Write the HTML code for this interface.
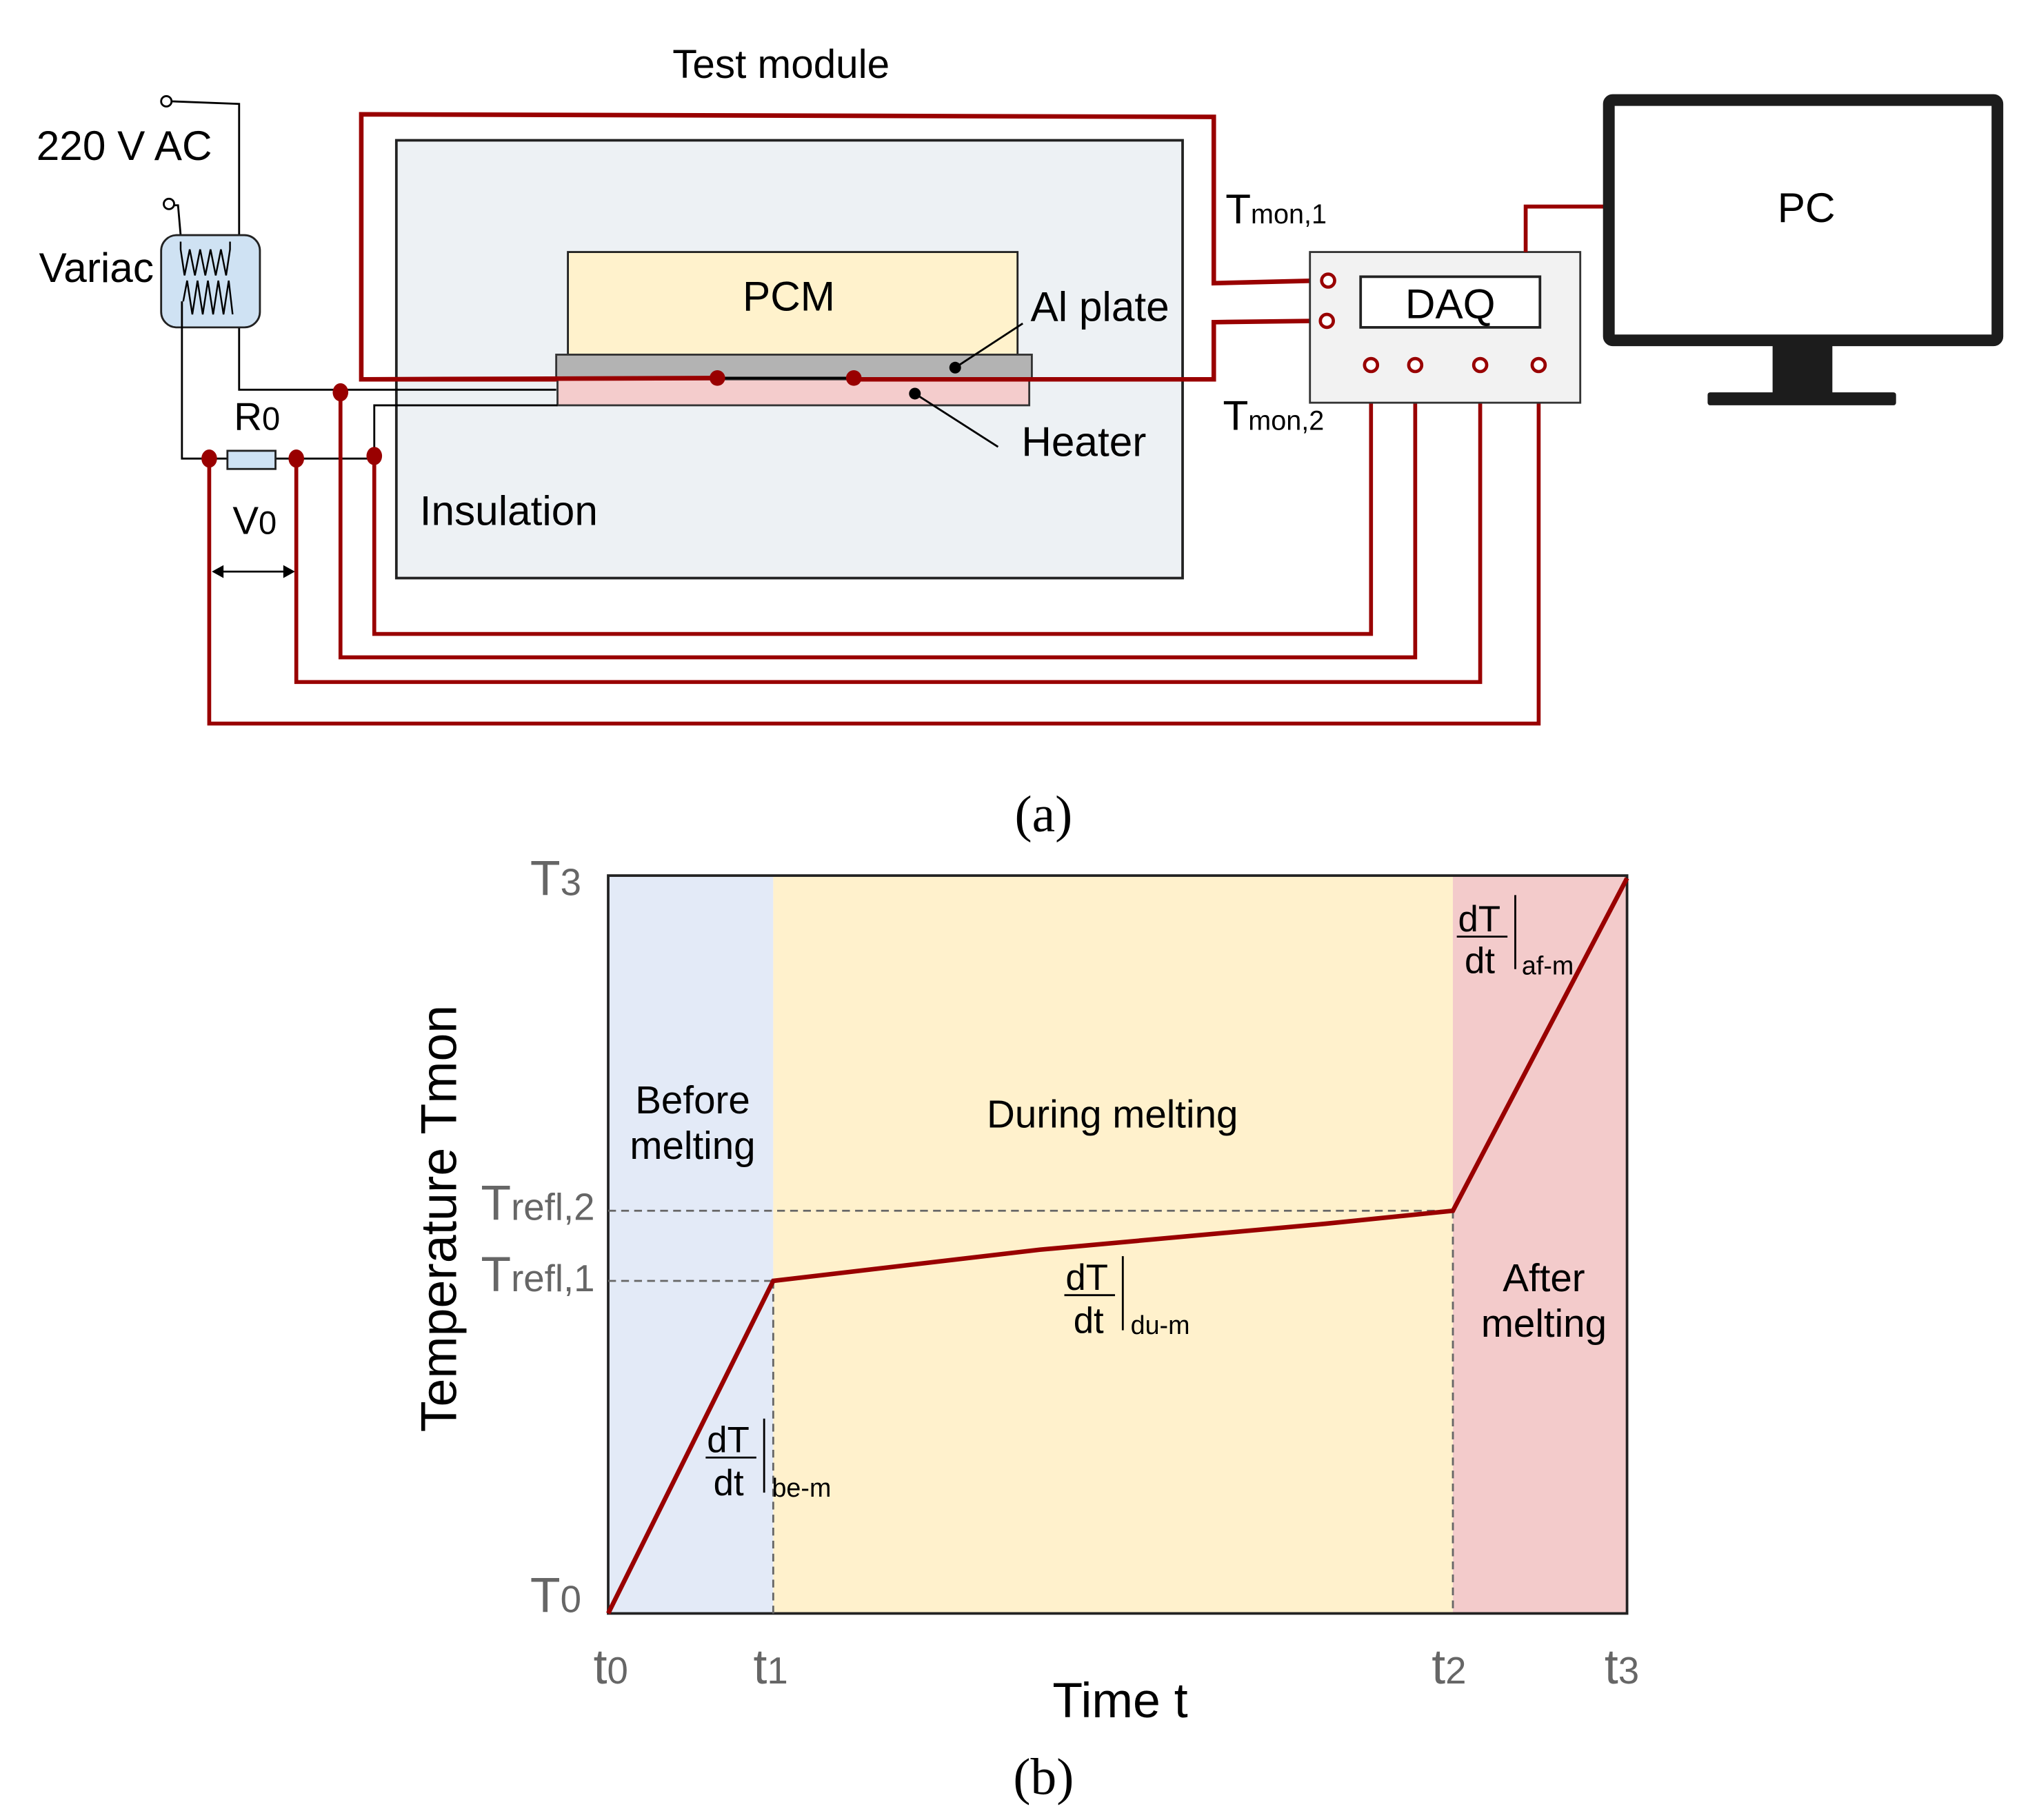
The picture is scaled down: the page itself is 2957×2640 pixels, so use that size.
<!DOCTYPE html>
<html><head><meta charset="utf-8"><style>
html,body{margin:0;padding:0;background:#fff;}
svg{display:block;}
text{font-family:"Liberation Sans",Arial,sans-serif;fill:#000;}
.g{fill:#666;}
.serif{font-family:"Liberation Serif",serif;}
</style></head><body>
<svg width="2957" height="2640" viewBox="0 0 1569 1401" preserveAspectRatio="none" xmlns="http://www.w3.org/2000/svg">
<rect x="0" y="0" width="1569" height="1401" fill="#fff"/>
<!-- ===== (a) ===== -->
<text x="601" y="60" font-size="31" text-anchor="middle">Test module</text>
<rect x="305" y="108" width="605" height="337" fill="#edf1f4" stroke="#222" stroke-width="2"/>
<text x="323" y="404" font-size="32">Insulation</text>
<polyline points="552,292 278,292 278,88 934,90 934,218 1014,216" fill="none" stroke="#990000" stroke-width="3.5"/>
<rect x="437" y="194" width="346" height="79" fill="#fff2cc" stroke="#222" stroke-width="1.5"/>
<text x="607" y="239" font-size="32" text-anchor="middle">PCM</text>
<rect x="428" y="273" width="366" height="19" fill="#b3b3b3" stroke="#333" stroke-width="1.5"/>
<rect x="429" y="292" width="363" height="20" fill="#f4cccc" stroke="#333" stroke-width="1.5"/>
<line x1="278" y1="292" x2="552" y2="291" stroke="#990000" stroke-width="3.5"/>
<line x1="552" y1="291" x2="657" y2="291" stroke="#000" stroke-width="2"/>
<polyline points="657,292 934,292 934,248 1014,247" fill="none" stroke="#990000" stroke-width="3.5"/>
<circle cx="552" cy="291" r="6" fill="#990000"/>
<circle cx="657" cy="291" r="6" fill="#990000"/>
<circle cx="735" cy="283" r="4.5" fill="#000"/>
<circle cx="704" cy="303" r="4.5" fill="#000"/>
<line x1="735" y1="283" x2="787" y2="249" stroke="#000" stroke-width="1.5"/>
<line x1="704" y1="303" x2="768" y2="344" stroke="#000" stroke-width="1.5"/>
<text x="793" y="247" font-size="32">Al plate</text>
<text x="786" y="351" font-size="32">Heater</text>
<text x="28" y="123" font-size="32">220 V AC</text>
<text x="30" y="217" font-size="32">Variac</text>
<circle cx="128" cy="78" r="4" fill="#fff" stroke="#000" stroke-width="1.5"/>
<circle cx="130" cy="157" r="4" fill="#fff" stroke="#000" stroke-width="1.5"/>
<polyline points="132,78 184,80 184,300 428,300" fill="none" stroke="#000" stroke-width="1.5"/>
<polyline points="134,158 137,158 139,181" fill="none" stroke="#000" stroke-width="1.5"/>
<rect x="124" y="181" width="76" height="71" rx="12" fill="#cfe2f3" stroke="#222" stroke-width="1.5"/>
<polyline points="139,186 139,192 142,212 146,192 150,212 154,192 158,212 162,192 166,212 170,192 174,212 177,192 177,186" fill="none" stroke="#000" stroke-width="1.3"/>
<polyline points="141,232 144,216 148,242 152,216 156,242 160,216 164,242 168,216 172,242 176,216 179,242" fill="none" stroke="#000" stroke-width="1.3"/>
<polyline points="140,232 140,353 288,353" fill="none" stroke="#000" stroke-width="1.5"/>
<polyline points="288,353 288,312 429,312" fill="none" stroke="#000" stroke-width="1.5"/>
<rect x="175" y="347" width="37" height="14" fill="#cfe2f3" stroke="#222" stroke-width="1.5"/>
<text x="180" y="331" font-size="30">R<tspan font-size="25">0</tspan></text>
<text x="179" y="411" font-size="30">V<tspan font-size="25">0</tspan></text>
<line x1="166" y1="440" x2="224" y2="440" stroke="#000" stroke-width="1.5"/>
<polygon points="163,440 172,435 172,445" fill="#000"/>
<polygon points="227,440 218,435 218,445" fill="#000"/>
<g fill="none" stroke="#990000" stroke-width="3">
<polyline points="288,351 288,488 1055,488 1055,285"/>
<polyline points="262,302 262,506 1089,506 1089,285"/>
<polyline points="228,353 228,525 1139,525 1139,285"/>
<polyline points="161,353 161,557 1184,557 1184,285"/>
</g>
<ellipse cx="161" cy="353" rx="6" ry="7" fill="#990000"/>
<ellipse cx="228" cy="353" rx="6" ry="7" fill="#990000"/>
<ellipse cx="288" cy="351" rx="6" ry="7" fill="#990000"/>
<ellipse cx="262" cy="302" rx="6" ry="7" fill="#990000"/>
<rect x="1008" y="194" width="208" height="116" fill="#f2f2f2" stroke="#333" stroke-width="1.5"/>
<rect x="1047" y="213" width="138" height="39" fill="#fff" stroke="#222" stroke-width="2"/>
<text x="1116" y="245" font-size="32" text-anchor="middle">DAQ</text>
<g fill="#fff" stroke="#990000" stroke-width="2.5">
<circle cx="1022" cy="216" r="5"/><circle cx="1021" cy="247" r="5"/>
<circle cx="1055" cy="281" r="5"/><circle cx="1089" cy="281" r="5"/>
<circle cx="1139" cy="281" r="5"/><circle cx="1184" cy="281" r="5"/>
</g>
<text x="943" y="172" font-size="32">T<tspan font-size="21">mon,1</tspan></text>
<text x="941" y="331" font-size="32">T<tspan font-size="21">mon,2</tspan></text>
<polyline points="1174,194 1174,159 1238,159" fill="none" stroke="#990000" stroke-width="3"/>
<rect x="1238" y="77" width="299" height="185" rx="3" fill="#fff" stroke="#1c1c1c" stroke-width="9"/>
<rect x="1364" y="262" width="46" height="42" fill="#1c1c1c"/>
<rect x="1314" y="302" width="145" height="10" rx="2" fill="#1c1c1c"/>
<text x="1390" y="171" font-size="32" text-anchor="middle">PC</text>
<text x="803" y="640" font-size="40" text-anchor="middle" class="serif">(a)</text>
<!-- ===== (b) ===== -->
<rect x="468" y="674" width="127" height="568" fill="#e3eaf7"/>
<rect x="595" y="674" width="523" height="568" fill="#fff1cc"/>
<rect x="1118" y="674" width="134" height="568" fill="#f3cbcb"/>
<rect x="468" y="674" width="784" height="568" fill="none" stroke="#222" stroke-width="2"/>
<g stroke="#666" stroke-width="1.5" stroke-dasharray="6,4" fill="none">
<line x1="468" y1="932" x2="1118" y2="932"/>
<line x1="468" y1="986" x2="595" y2="986"/>
<line x1="595" y1="986" x2="595" y2="1242"/>
<line x1="1118" y1="932" x2="1118" y2="1242"/>
</g>
<polyline points="468,1242 595,986 800,962 1020,942 1118,932 1252,676" fill="none" stroke="#990000" stroke-width="3.5"/>
<text x="533" y="857" font-size="30" text-anchor="middle">Before</text>
<text x="533" y="892" font-size="30" text-anchor="middle">melting</text>
<text x="856" y="868" font-size="30" text-anchor="middle">During melting</text>
<text x="1188" y="994" font-size="30" text-anchor="middle">After</text>
<text x="1188" y="1029" font-size="30" text-anchor="middle">melting</text>
<g font-size="28">
<text x="1122" y="717">dT</text><line x1="1121" y1="721" x2="1160" y2="721" stroke="#000" stroke-width="1.5"/>
<text x="1127" y="749">dt</text><line x1="1166" y1="689" x2="1166" y2="746" stroke="#000" stroke-width="1.5"/>
<text x="1171" y="750" font-size="20">af-m</text>
<text x="820" y="993">dT</text><line x1="819" y1="997" x2="858" y2="997" stroke="#000" stroke-width="1.5"/>
<text x="826" y="1026">dt</text><line x1="864" y1="967" x2="864" y2="1024" stroke="#000" stroke-width="1.5"/>
<text x="870" y="1027" font-size="20">du-m</text>
<text x="544" y="1118">dT</text><line x1="543" y1="1122" x2="582" y2="1122" stroke="#000" stroke-width="1.5"/>
<text x="549" y="1151">dt</text><line x1="588" y1="1092" x2="588" y2="1149" stroke="#000" stroke-width="1.5"/>
<text x="594" y="1152" font-size="20">be-m</text>
</g>
<g font-size="38">
<text x="408" y="689" class="g">T<tspan font-size="29">3</tspan></text>
<text x="370" y="939" class="g">T<tspan font-size="29">refl,2</tspan></text>
<text x="370" y="994" class="g">T<tspan font-size="29">refl,1</tspan></text>
<text x="408" y="1241" class="g">T<tspan font-size="29">0</tspan></text>
<text x="470" y="1296" text-anchor="middle" class="g">t<tspan font-size="29">0</tspan></text>
<text x="593" y="1296" text-anchor="middle" class="g">t<tspan font-size="29">1</tspan></text>
<text x="1115" y="1296" text-anchor="middle" class="g">t<tspan font-size="29">2</tspan></text>
<text x="1248" y="1296" text-anchor="middle" class="g">t<tspan font-size="29">3</tspan></text>
</g>
<text x="862" y="1322" font-size="38" text-anchor="middle">Time t</text>
<text transform="translate(351,938) rotate(-90)" font-size="39" text-anchor="middle">Temperature Tmon</text>
<text x="803" y="1381" font-size="40" text-anchor="middle" class="serif">(b)</text>
</svg>
</body></html>
